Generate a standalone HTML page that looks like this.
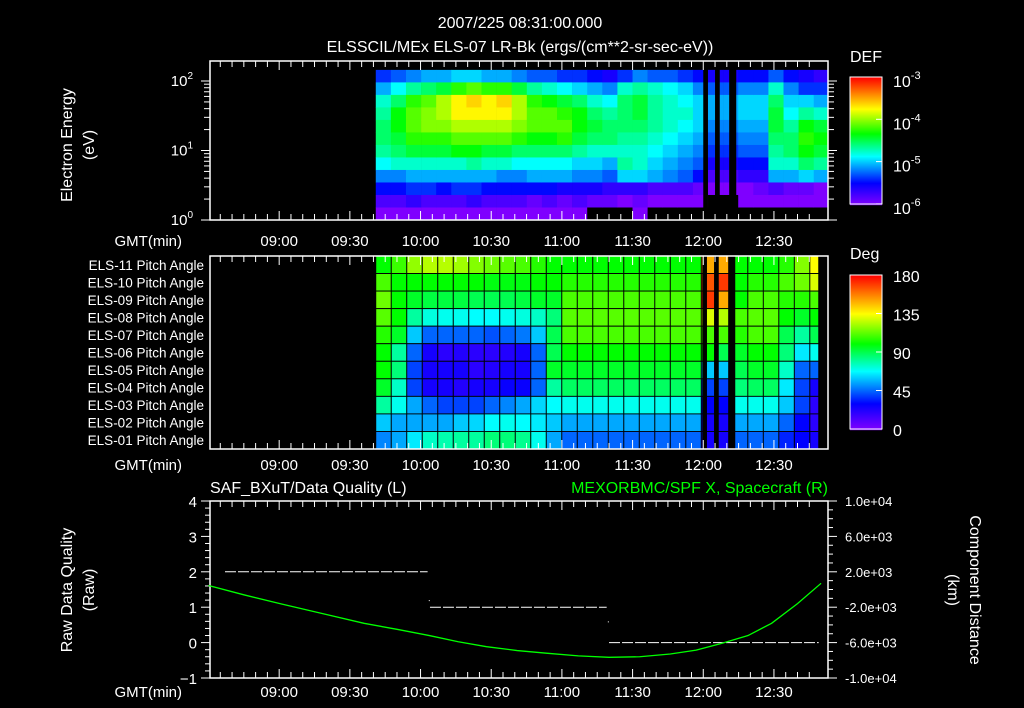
<!DOCTYPE html>
<html><head><meta charset="utf-8"><style>
html,body{margin:0;padding:0;background:#000;width:1024px;height:708px;overflow:hidden}
svg text{font-family:"Liberation Sans",sans-serif;fill:#fff}
</style></head><body>
<svg id="c" width="1024" height="708" viewBox="0 0 1024 708" xmlns="http://www.w3.org/2000/svg">
<rect width="1024" height="708" fill="#000"/>
<text x="520" y="28" font-size="16" text-anchor="middle">2007/225 08:31:00.000</text>
<text x="520" y="52" font-size="16" text-anchor="middle">ELSSCIL/MEx ELS-07 LR-Bk  (ergs/(cm**2-sr-sec-eV))</text>
<g id="g"></g>
</svg>
<script>
// ---------- data ----------
const xTickLabels=["09:00","09:30","10:00","10:30","11:00","11:30","12:00","12:30"];
const xTickMinutes=[30,60,90,120,150,180,210,240];
// spectrogram: log10 DEF per time column (rows top=high energy -> bottom=low energy)
const specStartMin=71, specStepMin=6.41;
const specCols=[
[-5.6,-5.3,-5.0,-4.9,-4.8,-4.8,-4.9,-5.1,-5.4,-5.7,-6.0,-6.2],
[-5.5,-5.1,-4.8,-4.6,-4.6,-4.7,-4.8,-5.0,-5.4,-5.7,-6.0,-6.3],
[-5.4,-4.9,-4.5,-4.4,-4.4,-4.5,-4.7,-5.0,-5.3,-5.6,-5.9,-6.2],
[-5.3,-4.8,-4.4,-4.3,-4.3,-4.5,-4.7,-5.0,-5.3,-5.6,-6.0,-6.3],
[-5.3,-4.7,-4.2,-4.2,-4.3,-4.5,-4.7,-5.0,-5.3,-5.7,-6.0,-6.2],
[-5.2,-4.5,-4.0,-4.0,-4.2,-4.4,-4.6,-5.0,-5.3,-5.6,-6.0,-6.3],
[-5.2,-4.4,-3.9,-4.0,-4.2,-4.4,-4.6,-4.9,-5.3,-5.6,-5.9,-6.2],
[-5.3,-4.5,-4.0,-4.0,-4.2,-4.4,-4.7,-5.0,-5.3,-5.7,-6.0,-6.3],
[-5.3,-4.5,-3.9,-4.0,-4.2,-4.4,-4.7,-5.0,-5.4,-5.7,-6.0,-6.2],
[-5.4,-4.7,-4.2,-4.2,-4.3,-4.5,-4.8,-5.1,-5.4,-5.7,-6.0,-6.3],
[-5.5,-4.9,-4.5,-4.4,-4.4,-4.6,-4.8,-5.1,-5.3,-5.7,-6.1,-6.3],
[-5.5,-5.0,-4.6,-4.4,-4.4,-4.6,-4.8,-5.1,-5.3,-5.7,-6.0,-6.2],
[-5.6,-5.1,-4.7,-4.5,-4.4,-4.5,-4.8,-5.1,-5.3,-5.8,-6.1,-6.3],
[-5.6,-5.2,-4.8,-4.6,-4.6,-4.7,-4.9,-5.2,-5.4,-5.8,-6.0,-6.3],
[-5.7,-5.3,-5.0,-4.8,-4.7,-4.8,-5.0,-5.2,-5.4,-5.8,-6.1,-6.4],
[-5.8,-5.4,-5.1,-4.9,-4.8,-4.8,-5.0,-5.3,-5.5,-5.9,-6.1,-6.4],
[-5.6,-5.0,-4.8,-4.8,-4.8,-4.9,-5.0,-4.9,-5.2,-5.9,-6.2,-6.4],
[-5.4,-4.9,-4.7,-4.7,-4.8,-4.9,-5.0,-5.0,-5.2,-5.9,-6.1,-6.3],
[-5.5,-5.0,-4.9,-4.9,-4.9,-5.0,-5.1,-5.2,-5.3,-6.0,-6.2,-6.4],
[-5.5,-5.1,-5.0,-5.0,-5.0,-5.1,-5.2,-5.3,-5.4,-6.0,-6.2,-6.4],
[-5.6,-5.2,-5.1,-5.0,-5.1,-5.2,-5.3,-5.4,-5.5,-6.0,-6.3,-6.4],
[-5.7,-5.4,-5.2,-5.2,-5.2,-5.3,-5.4,-5.5,-5.7,-6.1,-6.3,-6.4],
[-5.8,-5.5,-5.3,-5.3,-5.4,-5.5,-5.6,-5.8,-6.0,-6.2,-6.4,-6.4],
[-5.8,-5.5,-5.3,-5.3,-5.4,-5.5,-5.6,-5.8,-6.0,-6.2,-6.4,-6.4],
[-5.7,-5.4,-5.2,-5.2,-5.3,-5.4,-5.5,-5.7,-5.9,-6.2,-6.3,-6.4],
[-5.7,-5.4,-5.2,-5.2,-5.3,-5.4,-5.5,-5.7,-5.9,-6.1,-6.3,-6.4],
[-5.5,-5.0,-4.8,-4.7,-4.7,-4.8,-4.9,-5.0,-5.3,-6.0,-6.2,-6.4],
[-5.7,-5.4,-5.2,-5.1,-4.9,-4.8,-4.8,-5.0,-5.3,-6.1,-6.3,-6.4],
[-5.8,-5.6,-5.2,-4.9,-4.6,-4.5,-4.6,-4.8,-5.2,-6.1,-6.3,-6.4],
[-5.9,-5.6,-5.3,-5.0,-4.7,-4.6,-4.7,-4.9,-5.3,-6.2,-6.3,-6.4]
];
const specTopLog=2.16;
const gapStartMin=[210,215,221];
const gapEndMin=[212,217,224];
// pitch angle (deg) per time column, rows ELS-11 (top) .. ELS-01 (bottom)
const pitchStartMin=71, pitchStepMin=6.58, pitchEndMin=259;
const pitchLabels=["ELS-11","ELS-10","ELS-09","ELS-08","ELS-07","ELS-06","ELS-05","ELS-04","ELS-03","ELS-02","ELS-01"];
const mid=[100,105,110,112,110,100,95,88,70,55,45];
const pitchCols=[
[100,110,115,112,105,100,100,95,80,60,50],
[108,100,100,100,95,80,85,75,70,55,55],
[120,100,95,80,60,45,40,40,55,55,65],
[125,100,92,72,45,25,25,25,45,55,75],
[125,100,92,70,45,20,25,25,40,55,78],
[122,100,92,70,45,22,25,22,40,60,80],
[118,100,90,68,45,20,20,25,40,62,80],
[115,98,90,68,42,20,22,25,45,68,85],
[112,98,90,70,45,22,25,28,50,70,85],
[110,98,92,72,48,25,25,28,55,68,82],
[105,100,95,75,60,45,45,45,62,65,70],
[100,100,95,85,90,90,95,80,68,60,55],
mid,mid,mid,mid,mid,mid,mid,mid,mid,
[150,165,170,130,110,100,60,40,30,25,25],
[150,170,150,125,110,90,60,40,30,25,25],
[100,100,100,110,105,95,90,85,70,55,45],
mid,mid,
[105,110,105,100,90,85,75,65,60,45,35],
[118,115,105,95,80,65,45,40,40,30,30],
[135,130,110,100,90,70,45,25,20,20,25]
];
// data quality (left axis)
const qualStart=[7,94,170];
const qualEnd=[93,169,259];
const qualValue=[2,1,0];
const qualDotMin=[93.5,169.5];
const qualDotVal=[1.2,0.6];
// spacecraft X position (right axis, km)
const posMin=[0,15,31,48,66,80,94,106,118,131,144,157,170,183,196,207,218,229,239,250,260];
const posKm=[450,-600,-1640,-2700,-3820,-4500,-5220,-5900,-6460,-6900,-7210,-7500,-7660,-7600,-7290,-6850,-6080,-5200,-3820,-1600,700];

// ---------- helpers ----------
const NS="http://www.w3.org/2000/svg";
const G=document.getElementById('g');
function el(t,a,p){const e=document.createElementNS(NS,t);for(const k in a)e.setAttribute(k,a[k]);(p||G).appendChild(e);return e;}
const X0=210,X1=828;
const xS=m=>208.5+m*2.356;
const stops=[[0,[127,0,255]],[30,[0,0,255]],[68,[0,255,255]],[100,[0,255,0]],[135,[255,255,0]],[180,[255,0,0]]];
function cmap(v){v=Math.max(0,Math.min(180,v));for(let i=1;i<stops.length;i++){if(v<=stops[i][0]){const a=stops[i-1],b=stops[i],t=(v-a[0])/(b[0]-a[0]);const c=a[1].map((x,j)=>Math.round(x+(b[1][j]-x)*t));return `rgb(${c})`;}}return 'rgb(255,0,0)';}
function txt(x,y,s,size,anchor,name,fill){const t=el('text',{x:x,y:y,'font-size':size||15,'text-anchor':anchor||'start'});if(fill)t.setAttribute('style','fill:'+fill);t.textContent=s;return t;}
function xAxis(y0,y1,labY,pfx){
  for(let m=0;m<=258;m+=5){const x=xS(m);if(x<X0||x>X1)continue;const major=(m%30===0);const L=major?9:6;
    el('line',{x1:x,y1:y0,x2:x,y2:y0+L,stroke:'#fff','stroke-width':1});
    el('line',{x1:x,y1:y1,x2:x,y2:y1-L,stroke:'#fff','stroke-width':1});}
  xTickLabels.forEach((s,i)=>txt(xS(xTickMinutes[i]),labY,s,15,'middle',pfx+'-x-tick-label'));
  txt(182,labY,'GMT(min)',15,'end',pfx+'-x-axis-title');
}
function frame(y0,y1,name){const r=el('rect',{x:X0,y:y0,width:X1-X0,height:y1-y0,fill:'none',stroke:'#fff','stroke-width':1.5});}

// ---------- panel 1: spectrogram ----------
const P1T=61,P1B=220;
const yE=e=>220-e*69.5;
const nE=specCols[0].length, dE=specTopLog/nE;
specCols.forEach((col,i)=>{const m0=specStartMin+i*specStepMin, x0=xS(m0), x1=Math.min(X1,xS(m0+specStepMin));
  col.forEach((v,j)=>{const yt=yE(specTopLog-j*dE), yb=yE(specTopLog-(j+1)*dE);
    const r=el('rect',{x:x0,y:yt,width:x1-x0+0.3,height:yb-yt+0.3,fill:v<-6.35?'#000':cmap((v+6.2)*62)});
    
    });});
gapStartMin.forEach((g,i)=>{const r=el('rect',{x:xS(g),y:P1T,width:xS(gapEndMin[i])-xS(g),height:P1B-P1T,fill:'#000'});
  
  });
frame(P1T,P1B,'spectrogram-frame');
xAxis(P1T,P1B,246,'spectrogram');
for(let d=0;d<=2;d++){for(let k=1;k<10;k++){const e=d+Math.log10(k);if(e>2.29)break;const y=yE(e);const L=k===1?9:6;
  el('line',{x1:X0-L,y1:y,x2:X0,y2:y,stroke:'#fff'});el('line',{x1:X1,y1:y,x2:X1+L,y2:y,stroke:'#fff'});}
  const t=txt(193,yE(d)+5,'10',15,'end','energy-tick-label');const s=el('tspan',{dy:-7,'font-size':10},t);s.textContent=String(d);}
const ya=txt(0,0,'Electron Energy',16,'middle','energy-axis-title');ya.setAttribute('transform','translate(72,145) rotate(-90)');
const yb=txt(0,0,'(eV)',16,'middle','energy-axis-unit');yb.setAttribute('transform','translate(94,145) rotate(-90)');
// colorbar 1
for(let i=0;i<128;i++){el('rect',{x:850,y:77+i,width:32,height:1.2,fill:cmap(180*(1-i/127))});}
el('rect',{x:850,y:77,width:32,height:127,fill:'none',stroke:'#fff'});
txt(850,62,'DEF',16,'start','def-colorbar-title');
['-3','-4','-5','-6'].forEach((p,i)=>{const y=77+i*42.3;const t=txt(893,y+10,'10',16,'start','def-colorbar-label');const s=el('tspan',{dy:-8,'font-size':11},t);s.textContent=p;
  el('line',{x1:876,y1:y,x2:882,y2:y,stroke:'#fff'});});

// ---------- panel 2: pitch angles ----------
const P2T=256,P2B=449,RH=(P2B-P2T)/11;
pitchCols.forEach((col,i)=>{const m0=pitchStartMin+i*pitchStepMin;const x0=xS(m0), x1=xS(Math.min(pitchEndMin,m0+pitchStepMin));
  col.forEach((v,j)=>{const r=el('rect',{x:x0,y:P2T+j*RH,width:x1-x0,height:RH,fill:cmap(v),stroke:'#000','stroke-width':0.9});
    
    });});
gapStartMin.forEach((g,i)=>{el('rect',{x:xS(g)-1,y:P2T,width:xS(gapEndMin[i])-xS(g),height:P2B-P2T,fill:'#000'});});
frame(P2T,P2B,'pitch-angle-frame');
xAxis(P2T,P2B,470,'pitch');
pitchLabels.forEach((s,j)=>txt(204,P2T+(j+0.5)*RH+5,s+' Pitch Angle',13.5,'end','pitch-row-label'));
for(let i=0;i<155;i++){el('rect',{x:850,y:275+i,width:32,height:1.2,fill:cmap(180*(1-i/154))});}
el('rect',{x:850,y:275,width:32,height:154,fill:'none',stroke:'#fff'});
txt(850,259,'Deg',16,'start','deg-colorbar-title');
['180','135','90','45','0'].forEach((s,i)=>{const y=275+i*38.5;txt(893,y+7,s,16,'start','deg-colorbar-label');el('line',{x1:876,y1:y,x2:882,y2:y,stroke:'#fff'});});

// ---------- panel 3: data quality & position ----------
const P3T=501,P3B=678;
const yL=v=>501+(4-v)*35.4;
const yR=k=>501+(1e4-k)/2e4*177;
frame(P3T,P3B,'timeseries-frame');
xAxis(P3T,P3B,697,'timeseries');
for(let v=-1;v<=4.001;v+=0.2){const y=yL(v);const major=Math.abs(v-Math.round(v))<0.01;const L=major?9:5;el('line',{x1:X0-L,y1:y,x2:X0,y2:y,stroke:'#fff'});}
[4,3,2,1,0,-1].forEach(v=>txt(197,yL(v)+6,String(v).replace('-','\u2212'),15,'end','quality-tick-label'));
for(let k=-1e4;k<=1e4+1;k+=1000){const y=yR(k);const major=(Math.round(k/1000)%4===2||Math.round(k/1000)%4===-2)||Math.abs(k)===1e4;el('line',{x1:X1,y1:y,x2:X1+(major?9:5),y2:y,stroke:'#fff'});}
['1.0e+04','6.0e+03','2.0e+03','-2.0e+03','-6.0e+03','-1.0e+04'].forEach((s,i)=>{txt(845,yR(1e4-i*4000)+5,s,13,'start','distance-tick-label');});
txt(210,493,'SAF_BXuT/Data Quality (L)',16,'start','quality-series-title');
txt(828,493,'MEXORBMC/SPF X, Spacecraft (R)',16,'end','position-series-title','#00ff00');
const q1=txt(0,0,'Raw Data Quality',16,'middle','quality-axis-title');q1.setAttribute('transform','translate(72,590) rotate(-90)');
const q2=txt(0,0,'(Raw)',16,'middle','quality-axis-unit');q2.setAttribute('transform','translate(94,590) rotate(-90)');
const r1=txt(0,0,'Component Distance',16,'middle','distance-axis-title');r1.setAttribute('transform','translate(970,590) rotate(90)');
const r2=txt(0,0,'(km)',16,'middle','distance-axis-unit');r2.setAttribute('transform','translate(948,590) rotate(90)');
qualStart.forEach((s,i)=>{const l=el('line',{x1:xS(s),y1:yL(qualValue[i]),x2:xS(qualEnd[i]),y2:yL(qualValue[i]),stroke:'#fff','stroke-width':1,'stroke-dasharray':'11 2'});
  
  });
qualDotMin.forEach((m,i)=>{el('rect',{x:xS(m),y:yL(qualDotVal[i]),width:1,height:1,fill:'#fff'});});
const pl=el('polyline',{points:posMin.map((m,i)=>xS(m)+','+yR(posKm[i])).join(' '),fill:'none',stroke:'#00ff00','stroke-width':1.3});


</script>
</body></html>
